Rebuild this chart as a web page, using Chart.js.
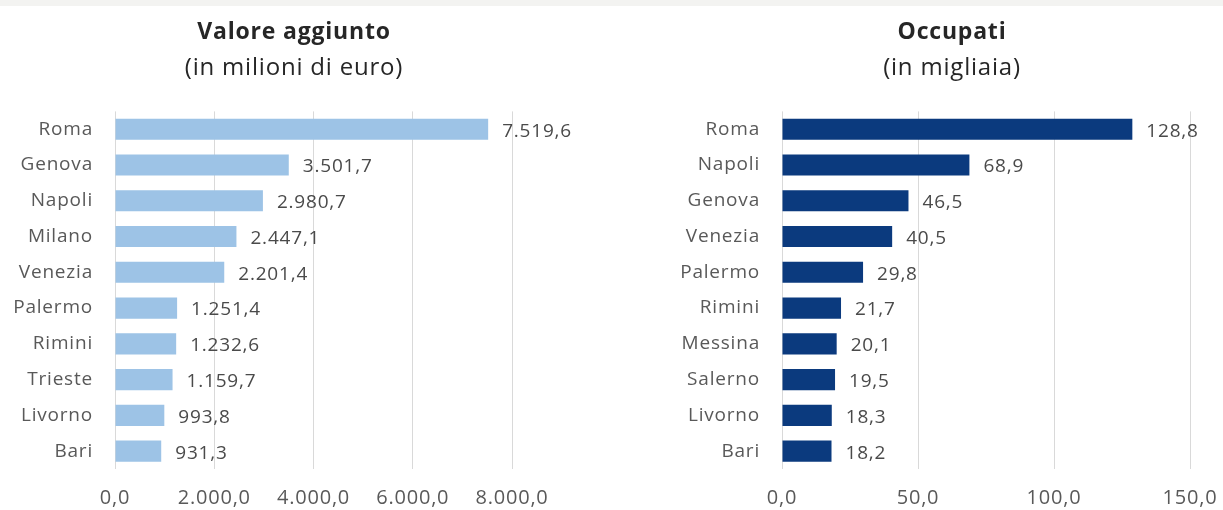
<!DOCTYPE html>
<html>
<head>
<meta charset="utf-8">
<script src="https://cdn.jsdelivr.net/npm/chart.js@4.4.1/dist/chart.umd.min.js"></script>
<style>
  html, body { margin: 0; padding: 0; background: #fff; }
  body { width: 1223px; height: 510px; position: relative; overflow: hidden; }
  .topband { position: absolute; left: 0; top: 0; width: 1223px; height: 6px; background: #f3f3f1; }
  .box { position: absolute; top: 0; height: 510px; }
  #boxLeft { left: 0; width: 588px; }
  #boxRight { left: 681px; width: 542px; }
</style>
</head>
<body>
<div class="topband"></div>
<div class="box" id="boxLeft"><canvas id="chartValore"></canvas></div>
<div class="box" id="boxRight"><canvas id="chartOccupati"></canvas></div>

<script>
// valore aggiunto (milioni di euro)
const cittaValore = ['Roma', 'Genova', 'Napoli', 'Milano', 'Venezia', 'Palermo', 'Rimini', 'Trieste', 'Livorno', 'Bari'];
const valoreAggiunto = [7519.6, 3501.7, 2980.7, 2447.1, 2201.4, 1251.4, 1232.6, 1159.7, 993.8, 931.3];

// occupati (migliaia)
const cittaOccupati = ['Roma', 'Napoli', 'Genova', 'Venezia', 'Palermo', 'Rimini', 'Messina', 'Salerno', 'Livorno', 'Bari'];
const occupati = [128.8, 68.9, 46.5, 40.5, 29.8, 21.7, 20.1, 19.5, 18.3, 18.2];

const FONT = '"Open Sans", Lato, sans-serif';

// formato italiano: punto per le migliaia, virgola per i decimali
function formatIt(v) {
    var parts = v.toFixed(1).split('.');
    var intPart = parts[0].replace(/\B(?=(\d{3})+(?!\d))/g, '.');
    return intPart + ',' + parts[1];
}

// testo un po' spaziato, come nei grafici di Excel
const spaziatura = {
    id: 'spaziatura',
    beforeDraw(chart) {
        chart.ctx.letterSpacing = '0.8px';
    }
};

// scrive il valore a destra di ogni barra
const valueLabels = {
    id: 'valueLabels',
    afterDatasetsDraw(chart) {
        const ctx = chart.ctx;
        const meta = chart.getDatasetMeta(0);
        const data = chart.data.datasets[0].data;
        ctx.save();
        ctx.font = '19px ' + FONT;
        ctx.fillStyle = '#4a4a4a';
        ctx.textAlign = 'left';
        ctx.textBaseline = 'middle';
        meta.data.forEach(function(bar, i) {
            ctx.fillText(formatIt(data[i]), bar.x + 14, bar.y + 2);
        });
        ctx.restore();
    }
};

function makeChart(canvasId, labels, values, color, max, step, title, subtitle, axisWidth, rightSpace) {
    return new Chart(document.getElementById(canvasId), {
        type: 'bar',
        data: {
            labels: labels,
            datasets: [{
                data: values,
                backgroundColor: color,
                borderWidth: 0,
                categoryPercentage: 1,
                barPercentage: 0.59
            }]
        },
        options: {
            indexAxis: 'y',
            responsive: true,
            maintainAspectRatio: false,
            animation: false,
            layout: { padding: { left: 0, right: 0, top: 0, bottom: 1 } },
            plugins: {
                legend: { display: false },
                tooltip: { enabled: false },
                title: {
                    display: true,
                    text: title,
                    color: '#262626',
                    font: { family: FONT, size: 23, weight: 'bold', lineHeight: 1.2 },
                    padding: { top: 19, bottom: 4 }
                },
                subtitle: {
                    display: true,
                    text: subtitle,
                    color: '#262626',
                    font: { family: FONT, size: 24, weight: 'normal', lineHeight: 1.2 },
                    padding: { top: 3, bottom: 29 }
                }
            },
            scales: {
                x: {
                    min: 0,
                    max: max,
                    ticks: {
                        stepSize: step,
                        color: '#595959',
                        font: { family: FONT, size: 20 },
                        padding: 17,
                        maxRotation: 0,
                        callback: function(v) { return formatIt(v); }
                    },
                    grid: { color: '#d9d9d9', lineWidth: 1, drawTicks: false },
                    border: { display: false },
                    afterFit: function(scale) {
                        scale.height = 40;
                        scale.paddingLeft = 0;
                        scale.paddingRight = rightSpace;
                    }
                },
                y: {
                    ticks: {
                        color: '#595959',
                        font: { family: FONT, size: 19 },
                        padding: 22
                    },
                    grid: { display: false, drawTicks: false },
                    border: { display: false },
                    afterFit: function(scale) {
                        scale.width = axisWidth;
                        scale.paddingTop = 0;
                        scale.paddingBottom = 0;
                    }
                }
            }
        },
        plugins: [spaziatura, valueLabels]
    });
}

makeChart('chartValore', cittaValore, valoreAggiunto, '#9dc3e6', 8000, 2000,
    'Valore aggiunto', '(in milioni di euro)', 115, 76);
makeChart('chartOccupati', cittaOccupati, occupati, '#0b3a7e', 150, 50,
    'Occupati', '(in migliaia)', 101, 33);
</script>
</body>
</html>
